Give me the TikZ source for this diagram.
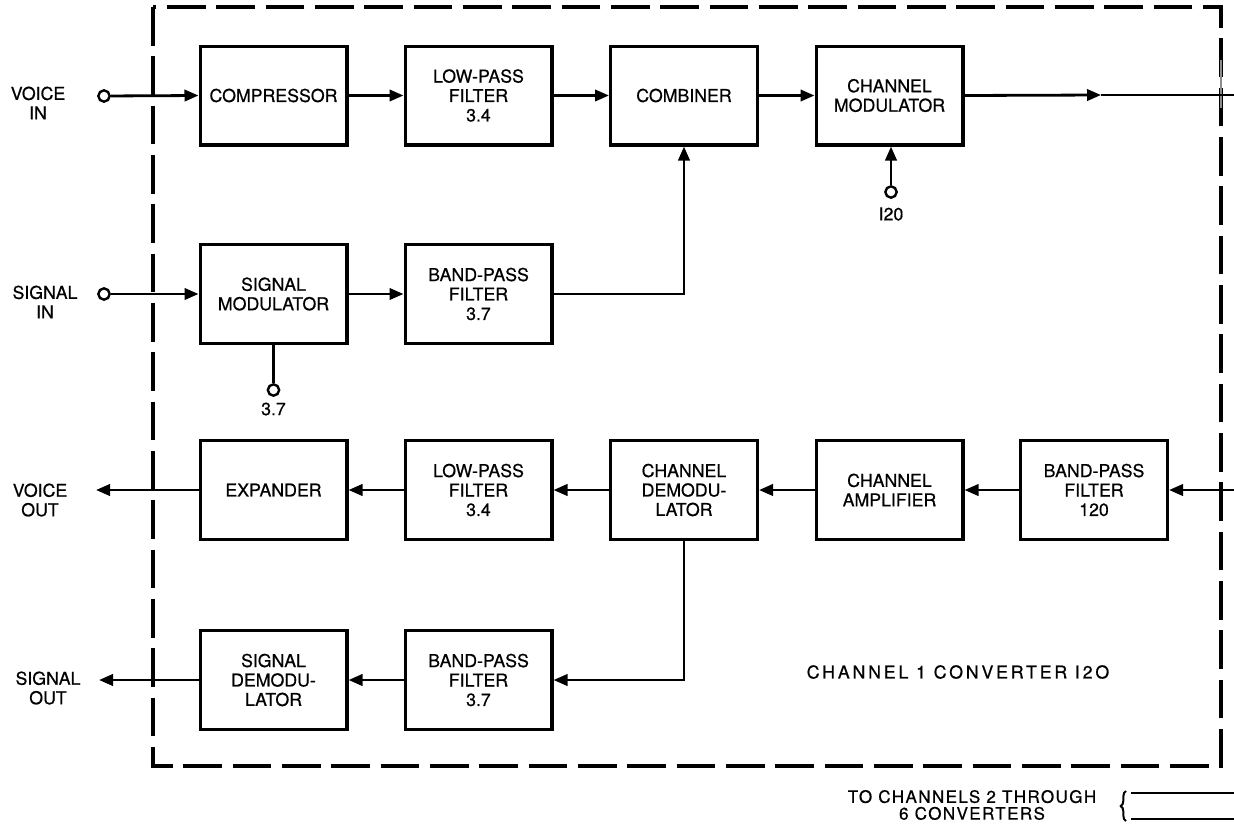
\documentclass[tikz,border=0pt]{standalone}
\usepackage{fontspec}
\setmainfont{TeX Gyre Heros}[FakeBold=0.6]
\usetikzlibrary{arrows.meta,decorations.pathreplacing}
\begin{document}
\begin{tikzpicture}[x=0.75pt,y=-0.75pt,
  txt/.style={font=\fontsize{13.3}{14.6}\selectfont},
  blk/.style={draw, line width=2.5pt, minimum width=110pt, minimum height=74pt,
              inner sep=0pt, align=center, txt},
  wire/.style={line width=2.1pt},
  arr/.style={wire, -{Triangle[length=10.5pt,width=8.5pt]}},
  lbl/.style={align=center, inner sep=0pt, txt},
  term/.style={circle, draw, line width=1.8pt, minimum size=8.5pt, inner sep=0pt, fill=white},
  frame/.style={line width=2.4pt, dash pattern=on 29pt off 8pt}
]
\useasboundingbox (0,0) rectangle (1234,825);

% converter outline
\draw[frame] (153,7) rectangle (1221,766);
\draw[line width=2pt, black!45] (1221,60) -- (1221,108);

% transmit path
\node[blk] (comp)   at (273.5,95.5) {COMPRESSOR};
\node[blk] (lpf1)   at (478.5,95.5) {LOW-PASS\\FILTER\\3.4};
\node[blk] (comb)   at (684,95.5)   {COMBINER};
\node[blk] (chmod)  at (889.5,95.5) {CHANNEL\\MODULATOR};
\node[blk] (sigmod) at (273.5,294)  {SIGNAL\\MODULATOR};
\node[blk] (bpf1)   at (478.5,294)  {BAND-PASS\\FILTER\\3.7};

% receive path
\node[blk] (exp)    at (273.5,490)  {EXPANDER};
\node[blk] (lpf2)   at (478.5,490)  {LOW-PASS\\FILTER\\3.4};
\node[blk] (chdem)  at (684,490)    {CHANNEL\\DEMODU-\\LATOR};
\node[blk] (champ)  at (889.5,490)  {CHANNEL\\AMPLIFIER};
\node[blk] (bpf120) at (1094,490)   {BAND-PASS\\FILTER\\120};
\node[blk] (sigdem) at (273.5,680)  {SIGNAL\\DEMODU-\\LATOR};
\node[blk] (bpf2)   at (478.5,680)  {BAND-PASS\\FILTER\\3.7};

% terminals
\node[term] (vin) at (104,96)  {};
\node[term] (sin) at (104,294) {};
\node[term] (t120) at (891,192) {};
\node[term] (t37) at (273.5,390) {};
\node[lbl] (l120) at (891,214) {I20};
\node[lbl] (l37) at (273.5,409) {3.7};

% outside labels
\node[lbl] (vinl)  at (38,103)  {VOICE\\IN};
\node[lbl] (sinl)  at (45,302)  {SIGNAL\\IN};
\node[lbl] (voutl) at (40,500)  {VOICE\\OUT};
\node[lbl] (soutl) at (48,688)  {SIGNAL\\OUT};
\node[lbl, font=\fontsize{13.3}{14.6}\selectfont\addfontfeature{LetterSpace=16}]
     (title) at (958,672) {CHANNEL 1 CONVERTER I2O};

% free line ends
\coordinate (mid)  at (1101,95);
\coordinate (rout) at (1234,95);
\coordinate (rin)  at (1234,490);
\coordinate (vout) at (96,490);
\coordinate (sout) at (99,680);

% transmit connections
\draw[arr] (vin) -- (comp.west);
\draw[arr] (comp) -- (lpf1);
\draw[arr] (lpf1) -- (comb);
\draw[arr] (comb) -- (chmod);
\draw[arr] (chmod.east) -- (mid);
\draw[wire] (mid) -- (rout);
\draw[arr] (t120) -- (chmod.south -| t120);
\draw[arr] (sin) -- (sigmod.west);
\draw[arr] (sigmod) -- (bpf1);
\draw[arr] (bpf1.east) -| (comb.south);
\draw[wire] (sigmod.south) -- (t37);

% receive connections
\draw[arr] (rin) -- (bpf120.east);
\draw[arr] (bpf120) -- (champ);
\draw[arr] (champ) -- (chdem);
\draw[arr] (chdem) -- (lpf2);
\draw[arr] (lpf2) -- (exp);
\draw[arr] (exp.west) -- (vout);
\draw[arr] (chdem.south) |- (bpf2.east);
\draw[arr] (bpf2) -- (sigdem);
\draw[arr] (sigdem.west) -- (sout);

% links to the other converters
\node[lbl, font=\fontsize{12.8}{12.6}\selectfont\addfontfeature{LetterSpace=8}]
     (others) at (972,805) {TO CHANNELS 2 THROUGH\\6 CONVERTERS};
\coordinate (ba) at (1131,793);
\coordinate (bb) at (1131,819);
\draw[line width=1.5pt, decorate, decoration={brace, amplitude=4pt}] (1126,821) -- (1126,791);
\draw[line width=1.5pt] (ba) -- (1234,793);
\draw[line width=1.5pt] (bb) -- (1234,819);
\end{tikzpicture}
\end{document}
